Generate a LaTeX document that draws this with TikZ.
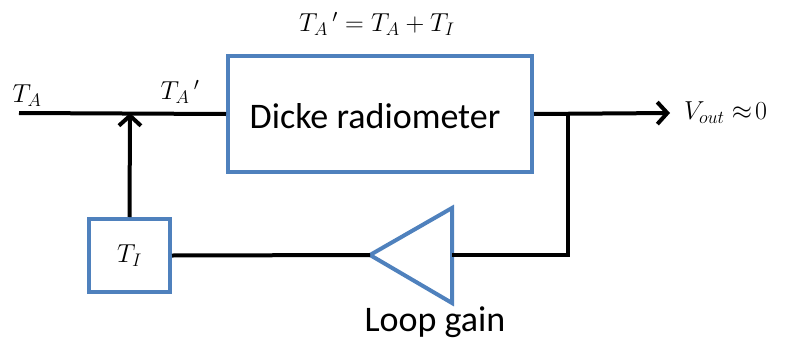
\RequirePackage{fix-cm}
\documentclass[tikz,border=0pt]{standalone}
\usepackage{fontspec}
\setmainfont{Carlito}
\usetikzlibrary{arrows.meta}
\definecolor{boxblue}{RGB}{79,129,189}
\tikzset{
  bluebox/.style={draw=boxblue, line width=4pt, fill=white, inner sep=0pt, font=\fontsize{26}{31}\selectfont},
  wire/.style={line width=4pt, draw=black},
  tip/.style={-{Straight Barb[length=10pt,width=22pt,line width=4pt]}},
  lbl/.style={font=\fontsize{36}{42}\selectfont, inner sep=0pt},
  mlbl/.style={font=\fontsize{26}{31}\selectfont, inner sep=0pt}
}
\begin{document}
\begin{tikzpicture}[x=1pt,y=-1pt]
\useasboundingbox (0,0) rectangle (785,343);
% blocks
\node[bluebox, minimum width=304pt, minimum height=116pt] (dicke) at (380,114) {};
\node[lbl] (dtext) at (375,116) {Dicke radiometer};
\node[bluebox, minimum width=81pt, minimum height=73pt] (ti) at (129.5,255.5) {$T_I$};
% amplifier
\coordinate (amptip) at (370,255);
\coordinate (ampin) at (452,255);
\draw[line width=4pt, draw=boxblue, line join=miter] (452,208) -- (amptip) -- (452,303) -- cycle;
% wires
\coordinate (tain) at (19,113);
\coordinate (junc) at (130,113);
\coordinate (branch) at (568,113);
\coordinate (out) at (670,113);
\coordinate (corner) at (568,255);
\draw[wire] (tain) -- (dicke.west);
\draw[wire, tip] (ti.north) -- (junc);
\draw[wire, tip] (dicke.east) -- (out);
\draw[wire] (branch) -- (corner) -- (ampin);
\draw[wire] (amptip) -- (ti.east);
% labels
\node[mlbl] (lta) at (27,96) {$T_A$};
\node[mlbl] (ltap) at (180,92) {$T_A\,'$};
\node[mlbl] (eq) at (377,24) {$T_A\,' = T_A + T_I$};
\node[mlbl, anchor=west] (vout) at (684,113) {$V_{out}\approx\!0$};
\node[lbl] (lg) at (435,322) {Loop gain};
\end{tikzpicture}
\end{document}
